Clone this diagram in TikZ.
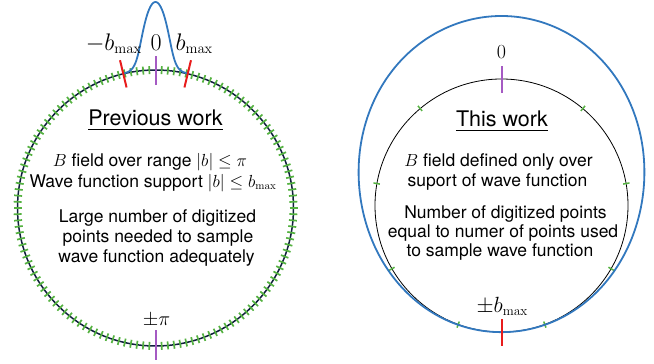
\RequirePackage{fix-cm}
\documentclass[tikz,border=0pt]{standalone}
\usepackage[no-math]{fontspec}
\setmainfont{TeX Gyre Heros}
\DeclareMathSizes{24}{24}{14.7}{10}
\DeclareMathSizes{22}{22}{13.5}{10}
\DeclareMathSizes{20}{20}{12.5}{9}
\DeclareMathSizes{17.5}{17.5}{11}{8}
\definecolor{gblue}{RGB}{50,120,190}
\definecolor{gred}{RGB}{232,28,28}
\definecolor{gpurple}{RGB}{165,90,195}
\definecolor{ggreen}{RGB}{85,178,65}
\definecolor{gnavy}{RGB}{15,30,60}
\tikzset{
  bodytext/.style={anchor=base, inner sep=0pt, font=\fontsize{17.5}{20.5}\selectfont},
  titletext/.style={anchor=base, inner sep=0pt, font=\fontsize{21.5}{25}\selectfont},
  labbig/.style={anchor=base, inner sep=0pt, font=\fontsize{24}{28}\selectfont},
  labmid/.style={anchor=base, inner sep=0pt, font=\fontsize{22}{26}\selectfont},
  labsmall/.style={anchor=base, inner sep=0pt, font=\fontsize{20}{24}\selectfont},
  tickred/.style={draw=gred, line width=2pt},
  tickpurple/.style={draw=gpurple, line width=2pt},
  tickgreen/.style={draw=ggreen, line width=1.7pt},
  wave/.style={draw=gblue, line width=1.8pt},
  uline/.style={line width=1.3pt}
}
\begin{document}
\begin{tikzpicture}[x=1pt,y=-1pt]
\useasboundingbox (0,0) rectangle (654,364);
% ---------- left: previous work ----------
\begin{scope}[shift={(155.5,208)}]
  \draw[gnavy, line width=1.5pt] (0,0) circle[radius=138];
  \foreach \a in {0,...,139}
    \draw[tickgreen] ({\a*2.571429}:134) -- ({\a*2.571429}:142);
  \draw[wave] plot[domain=-14:14, samples=140, smooth]
    ({-90+\x}:{138+68*exp(-((\x/3.86)*(\x/3.86))/2)});
  \draw[tickred] (-103.5:124) -- (-103.5:152);
  \draw[tickred] (-76.5:124) -- (-76.5:152);
  \draw[tickpurple] (0,-123) -- (0,-152);
  \draw[tickpurple] (0,122) -- (0,152);
\end{scope}
\node[labbig] (lmb) at (113.8,50) {$-b_{\max}$};
\node[labbig] (lz) at (156.2,50) {$0$};
\node[labbig] (lpb) at (194.2,50) {$b_{\max}$};
\node[labsmall] (lpi) at (156.5,325) {$\pm\pi$};
\node[titletext] (lt) at (155.5,125.7) {Previous work};
\draw[uline] ([yshift=-3.6pt]lt.base west) -- ([yshift=-3.6pt]lt.base east);
\node[bodytext] (l1) at (150,166.7) {$B$ field over range $|b|\le\pi$};
\node[bodytext] (l2) at (153,187.3) {Wave function support $|b|\le b_{\max}$};
\node[bodytext] (l3) at (157.5,222.7) {Large number of digitized};
\node[bodytext] (l4) at (158,242.9) {points needed to sample};
\node[bodytext] (l5) at (156.5,262.9) {wave function adequately};
% ---------- right: this work ----------
\begin{scope}[shift={(501.5,205.5)}]
  \draw[black, line width=0.8pt] (0,0) circle[radius=126.5];
  \foreach \a in {0,40,...,320}
    \draw[ggreen, line width=1.5pt] ({-90+\a}:123.5) -- ({-90+\a}:130);
  \draw[wave] plot[domain=-180:180, samples=241, smooth]
    ({-90+\x}:{126.5+63*exp(-((\x/51)*(\x/51))/2)});
  \draw[tickpurple] (0,-112.5) -- (0,-139.5);
  \draw[tickred] (0,113.5) -- (0,140.5);
\end{scope}
\node[labsmall] (rz) at (501.5,58) {$0$};
\node[labmid] (rpb) at (502.3,312.3) {$\pm b_{\max}$};
\node[titletext] (rt) at (502,126.7) {This work};
\draw[uline] ([yshift=-3.6pt]rt.base west) -- ([yshift=-3.6pt]rt.base east);
\node[bodytext] (r1) at (498.5,166.7) {$B$ field defined only over};
\node[bodytext] (r2) at (497.5,186.7) {suport of wave function};
\node[bodytext] (r3) at (505.5,218.3) {Number of digitized points};
\node[bodytext] (r4) at (503,237.3) {equal to numer of points used};
\node[bodytext] (r5) at (500,256.3) {to sample wave function};
\end{tikzpicture}
\end{document}
